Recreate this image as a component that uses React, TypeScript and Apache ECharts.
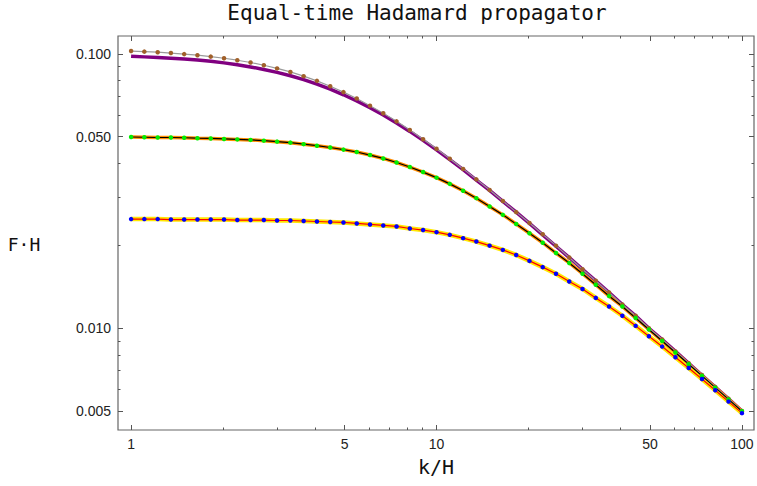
import React, { useEffect, useRef } from 'react';
import * as echarts from 'echarts';

// k/H sample points (dot positions)
const kValues = [1, 1.105, 1.222, 1.35, 1.492, 1.649, 1.823, 2.015, 2.227, 2.461, 2.72, 3.006, 3.323, 3.672, 4.059, 4.486, 4.958, 5.48, 6.056, 6.693, 7.398, 8.176, 9.037, 10, 11.05, 12.22, 13.5, 14.92, 16.49, 18.23, 20.15, 22.27, 24.61, 27.2, 30.06, 33.22, 36.72, 40.59, 44.86, 49.58, 54.8, 60.56, 66.93, 73.98, 81.76, 90.37, 100];

// top group: gray line + brown dots
const topValues = [0.1025, 0.102, 0.1015, 0.1008, 0.0999, 0.099, 0.0978, 0.0965, 0.0949, 0.0931, 0.091, 0.0886, 0.086, 0.083, 0.0798, 0.0763, 0.0726, 0.0688, 0.0648, 0.0608, 0.0568, 0.0528, 0.0489, 0.0451, 0.0415, 0.0381, 0.0349, 0.0319, 0.0291, 0.0265, 0.0242, 0.022, 0.02, 0.0181, 0.0164, 0.0149, 0.0135, 0.0122, 0.0111, 0.01, 0.00909, 0.00823, 0.00745, 0.00675, 0.00611, 0.00553, 0.00499];
// top group: thick purple line
const purpleValues = [0.0981, 0.0976, 0.0971, 0.0965, 0.0958, 0.095, 0.094, 0.0928, 0.0914, 0.0897, 0.0878, 0.0857, 0.0833, 0.0806, 0.0776, 0.0744, 0.071, 0.0674, 0.0637, 0.0599, 0.056, 0.0522, 0.0484, 0.0447, 0.0412, 0.0379, 0.0347, 0.0318, 0.029, 0.0265, 0.0241, 0.0219, 0.0199, 0.0181, 0.0164, 0.0149, 0.0135, 0.0122, 0.0111, 0.01, 0.00909, 0.00823, 0.00745, 0.00674, 0.0061, 0.00553, 0.00499];
// middle group: orange line, black line, green dots
const midValues = [0.0498, 0.0497, 0.0496, 0.0496, 0.0495, 0.0493, 0.0492, 0.049, 0.0488, 0.0486, 0.0483, 0.0479, 0.0475, 0.0469, 0.0463, 0.0456, 0.0448, 0.0439, 0.0428, 0.0416, 0.0402, 0.0387, 0.0371, 0.0354, 0.0336, 0.0317, 0.0298, 0.0278, 0.0259, 0.024, 0.0222, 0.0205, 0.0188, 0.0173, 0.0158, 0.0144, 0.0131, 0.012, 0.0109, 0.00989, 0.00898, 0.00815, 0.00739, 0.0067, 0.00607, 0.0055, 0.00498];
// bottom group: yellow line, red line, blue dots
const lowValues = [0.025, 0.025, 0.025, 0.0249, 0.0249, 0.0249, 0.0249, 0.0249, 0.0248, 0.0248, 0.0248, 0.0247, 0.0247, 0.0246, 0.0245, 0.0244, 0.0243, 0.0241, 0.0239, 0.0237, 0.0235, 0.0231, 0.0228, 0.0224, 0.0219, 0.0213, 0.0207, 0.02, 0.0193, 0.0185, 0.0176, 0.0167, 0.0158, 0.0148, 0.0139, 0.0129, 0.012, 0.0111, 0.0102, 0.00935, 0.00857, 0.00784, 0.00716, 0.00653, 0.00594, 0.0054, 0.0049];

const xMajorTicks = [1, 5, 10, 50, 100];
const xMajorLabels = ['1', '5', '10', '50', '100'];
const xMinorTicks = [2, 3, 4, 6, 7, 8, 9, 20, 30, 40, 60, 70, 80, 90];
const yMajorTicks = [0.005, 0.01, 0.05, 0.1];
const yMajorLabels = ['0.005', '0.010', '0.050', '0.100'];
const yMinorTicks = [0.006, 0.007, 0.008, 0.009, 0.02, 0.03, 0.04, 0.06, 0.07, 0.08, 0.09];

const TITLE = 'Equal-time Hadamard propagator';
const X_NAME = 'k/H';
const Y_NAME = 'F·H';

const X_MIN = 0.906;
const X_MAX = 109.5;
const Y_MIN = 0.004254;
const Y_MAX = 0.1163;

const L = Math.log10;

export default function App() {
  const ref = useRef<HTMLDivElement>(null);
  useEffect(() => {
    if (!ref.current) return;
    const chart = echarts.init(ref.current, undefined, { renderer: 'svg' });
    const tickColor = '#555';
    const labelFont = { fontFamily: 'Liberation Sans', fontSize: 14, color: '#222' };
    const fmt = (ticks: number[], labels: string[]) => (v: number) => {
      const i = ticks.findIndex((t) => Math.abs(L(t) - v) < 1e-4);
      return i >= 0 ? labels[i] : '';
    };
    const tickAxis = (
      pos: string,
      lo: number,
      hi: number,
      ticks: number[],
      len: number,
      labels: string[] | null,
      extra: any = {}
    ) => ({
      type: 'value',
      position: pos,
      min: L(lo),
      max: L(hi),
      axisLine: { show: false, onZero: false },
      splitLine: { show: false },
      axisTick: {
        show: true,
        inside: true,
        length: len,
        customValues: ticks.map(L),
        lineStyle: { color: tickColor, width: 1 },
      },
      axisLabel: labels
        ? { show: true, customValues: ticks.map(L), formatter: fmt(ticks, labels), margin: 7, ...labelFont }
        : { show: false },
      ...extra,
    });

    const line = (data: number[], color: string, width: number, z: number) => ({
      type: 'line',
      xAxisIndex: 0,
      yAxisIndex: 0,
      data: kValues.map((k, i) => [k, data[i]]),
      showSymbol: false,
      symbol: 'none',
      lineStyle: { color, width },
      itemStyle: { color },
      silent: true,
      z,
    });
    const dots = (data: number[], color: string, z: number) => ({
      type: 'scatter',
      xAxisIndex: 0,
      yAxisIndex: 0,
      data: kValues.map((k, i) => [k, data[i]]),
      symbol: 'circle',
      symbolSize: 4.5,
      itemStyle: { color, opacity: 1 },
      silent: true,
      z,
    });

    chart.setOption({
      animation: false,
      grid: {
        left: 118,
        top: 36,
        right: 3,
        bottom: 56,
        show: true,
        borderColor: '#666',
        borderWidth: 1.2,
        backgroundColor: 'transparent',
      },
      graphic: [
        {
          type: 'text',
          x: 417,
          y: 13,
          style: {
            text: TITLE,
            fontFamily: 'DejaVu Sans Mono',
            fontSize: 21,
            fill: '#111',
            align: 'center',
            verticalAlign: 'middle',
          },
        },
        {
          type: 'text',
          x: 24,
          y: 244,
          style: {
            text: Y_NAME,
            fontFamily: 'DejaVu Sans Mono',
            fontSize: 18,
            fill: '#111',
            align: 'center',
            verticalAlign: 'middle',
          },
        },
      ],
      xAxis: [
        { type: 'log', min: X_MIN, max: X_MAX, show: false, axisLine: { onZero: false } },
        tickAxis('bottom', X_MIN, X_MAX, xMajorTicks, 5, xMajorLabels, {
          name: X_NAME,
          nameLocation: 'middle',
          nameGap: 27,
          nameTextStyle: { fontFamily: 'DejaVu Sans Mono', fontSize: 20, color: '#111' },
        }),
        tickAxis('bottom', X_MIN, X_MAX, xMinorTicks, 2.5, null),
        tickAxis('top', X_MIN, X_MAX, xMajorTicks, 5, null),
        tickAxis('top', X_MIN, X_MAX, xMinorTicks, 2.5, null),
      ],
      yAxis: [
        { type: 'log', min: Y_MIN, max: Y_MAX, show: false, axisLine: { onZero: false } },
        tickAxis('left', Y_MIN, Y_MAX, yMajorTicks, 5, yMajorLabels),
        tickAxis('left', Y_MIN, Y_MAX, yMinorTicks, 2.5, null),
        tickAxis('right', Y_MIN, Y_MAX, yMajorTicks, 5, null),
        tickAxis('right', Y_MIN, Y_MAX, yMinorTicks, 2.5, null),
      ],
      series: [
        line(purpleValues, '#800080', 3.5, 2),
        line(topValues, '#9a9a9a', 1.2, 3),
        line(midValues, '#ff8c00', 3.5, 2),
        line(midValues, '#000000', 1.2, 3),
        line(lowValues, '#ffe800', 4.5, 2),
        line(lowValues, '#ff0000', 1.2, 3),
        dots(topValues, '#a0602a', 5),
        dots(midValues, '#00ee00', 5),
        dots(lowValues, '#0000ff', 5),
      ],
    });
    return () => chart.dispose();
  }, []);
  return <div ref={ref} style={{ position: 'absolute', left: 0, top: 0, width: 757, height: 486 }} />;
}
